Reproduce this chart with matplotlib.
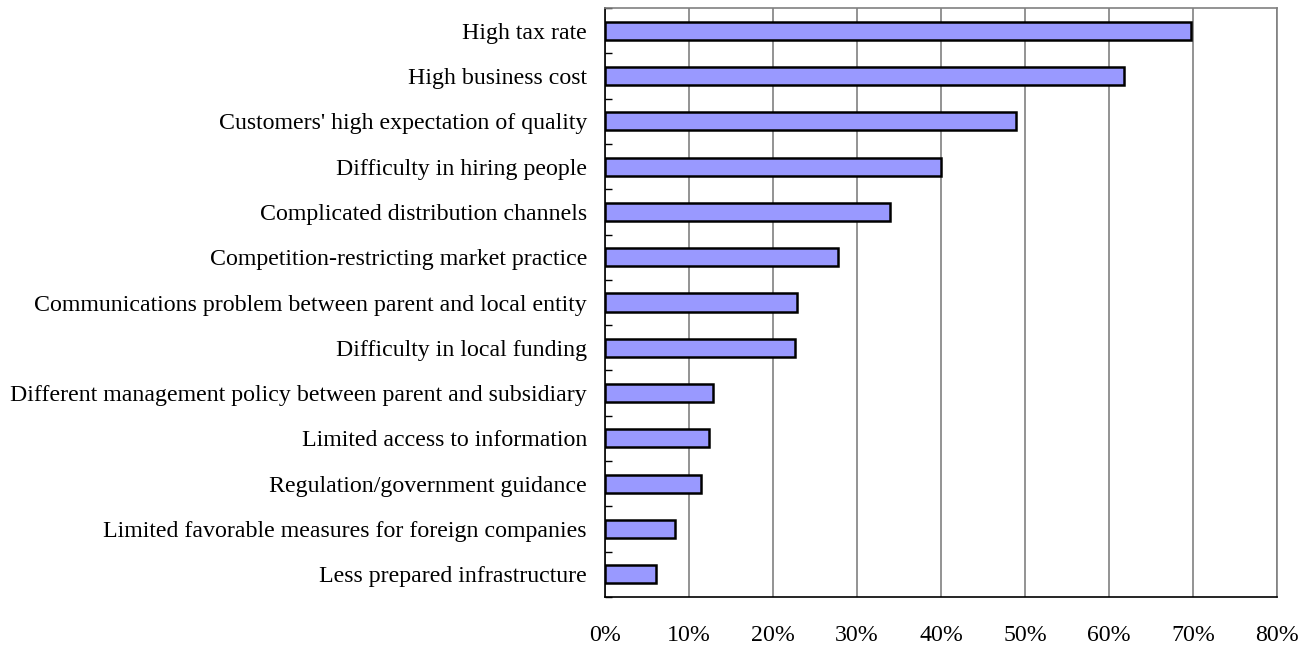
import numpy as np
import matplotlib.pyplot as plt
from matplotlib.ticker import FixedLocator

# problems faced by local subsidiaries (share of respondents, %)
problems = [
    "High tax rate",
    "High business cost",
    "Customers' high expectation of quality",
    "Difficulty in hiring people",
    "Complicated distribution channels",
    "Competition-restricting market practice",
    "Communications problem between parent and local entity",
    "Difficulty in local funding",
    "Different management policy between parent and subsidiary",
    "Limited access to information",
    "Regulation/government guidance",
    "Limited favorable measures for foreign companies",
    "Less prepared infrastructure",
]
shares = [69.8, 61.8, 48.9, 40.0, 33.9, 27.7, 22.9, 22.6, 12.9, 12.4, 11.4, 8.3, 6.1]
xticks = [0, 10, 20, 30, 40, 50, 60, 70, 80]

plt.rcParams['font.family'] = ['Liberation Serif', 'DejaVu Serif']

fig = plt.figure(figsize=(13.14, 6.45), dpi=100)
ax = fig.add_axes([605 / 1314, 1 - 597 / 645, 672 / 1314, 589 / 645])

y = np.arange(len(problems))
ax.barh(y, shares, height=0.4, color='#9999ff', edgecolor='black', linewidth=1.8, zorder=3)

ax.set_xlim(0, 80)
ax.set_ylim(len(problems) - 0.5, -0.5)
ax.set_xticks(xticks)
ax.set_xticklabels([f"{v}%" for v in xticks])
ax.set_yticks(y)
ax.set_yticklabels(problems)
ax.yaxis.set_minor_locator(FixedLocator(np.arange(-0.5, len(problems), 1)))

ax.tick_params(axis='x', length=0, pad=20, labelsize=17.2)
ax.tick_params(axis='y', which='major', length=0, pad=13, labelsize=17.2)
ax.tick_params(axis='y', which='minor', direction='in', length=5, width=1, color='black')

ax.grid(axis='x', color='#808080', linewidth=1.2, zorder=0)
ax.spines['left'].set_color('black')
ax.spines['bottom'].set_color('black')
ax.spines['top'].set_color('#808080')
ax.spines['right'].set_color('#808080')
for s in ax.spines.values():
    s.set_linewidth(1.2)

plt.savefig('out.png', dpi=100)
